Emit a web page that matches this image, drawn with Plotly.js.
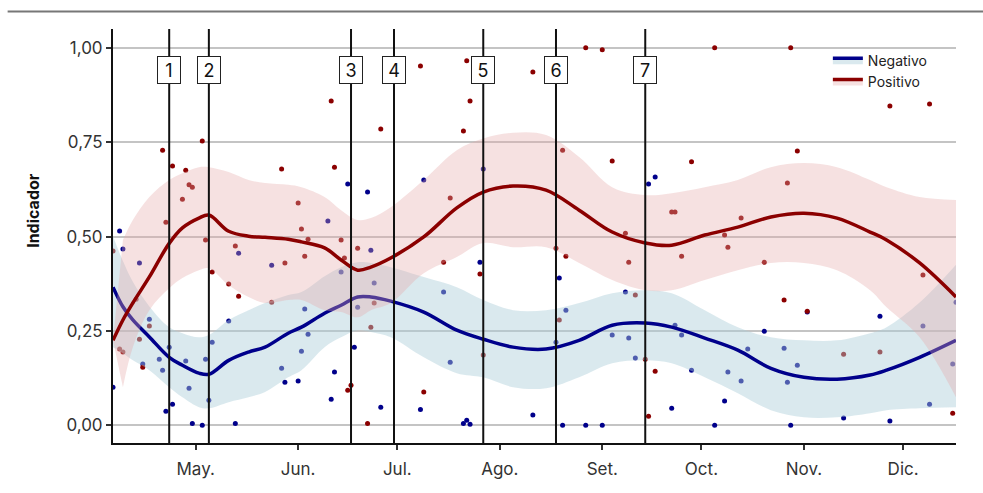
<!DOCTYPE html>
<html>
<head>
<meta charset="utf-8">
<script src="https://cdn.plot.ly/plotly-3.0.1.min.js"></script>
<style>
html,body{margin:0;padding:0;background:#fff;}
#chart{width:983px;height:493px;}
</style>
</head>
<body>
<div id="chart"></div>
<script>
// ---------- data ----------
const seriesNames = ['Negativo', 'Positivo'];

const negDates = ['2021-04-06','2021-04-08','2021-04-09','2021-04-14','2021-04-15','2021-04-17','2021-04-20','2021-04-21','2021-04-22','2021-04-23',
'2021-04-24','2021-04-28','2021-04-29','2021-04-30','2021-05-03','2021-05-04','2021-05-05','2021-05-06','2021-05-11','2021-05-13',
'2021-05-14','2021-05-24','2021-05-27','2021-05-28','2021-06-01','2021-06-02','2021-06-03','2021-06-04','2021-06-10','2021-06-11',
'2021-06-12','2021-06-14','2021-06-16','2021-06-18','2021-06-19','2021-06-22','2021-06-23','2021-06-24','2021-06-26','2021-07-08',
'2021-07-09','2021-07-15','2021-07-17','2021-07-21','2021-07-22','2021-07-23','2021-07-26','2021-07-27','2021-08-11','2021-08-18',
'2021-08-19','2021-08-20','2021-08-21','2021-08-27','2021-09-01','2021-09-04','2021-09-08','2021-09-09','2021-09-11','2021-09-15',
'2021-09-17','2021-09-22','2021-09-23','2021-09-25','2021-09-28','2021-10-05','2021-10-08','2021-10-09','2021-10-13','2021-10-15',
'2021-10-20','2021-10-26','2021-10-27','2021-10-28','2021-10-30','2021-11-02','2021-11-13','2021-11-24','2021-11-27','2021-12-07',
'2021-12-09','2021-12-16','2021-12-17'];
const negValues = [0.101,0.515,0.467,0.430,0.162,0.281,0.175,0.146,0.037,0.207,
0.056,0.170,0.098,0.005,0.000,0.175,0.066,0.220,0.276,0.005,
0.456,0.424,0.151,0.114,0.117,0.196,0.308,0.241,0.541,0.069,
0.141,0.406,0.639,0.207,0.313,0.618,0.464,0.377,0.048,0.042,
0.650,0.353,0.167,0.005,0.013,0.003,0.432,0.679,0.027,0.220,
0.390,0.000,0.305,0.000,0.000,0.239,0.353,0.231,0.178,0.639,
0.658,0.045,0.265,0.239,0.146,0.000,0.064,0.141,0.117,0.202,
0.249,0.204,0.114,0.000,0.159,0.300,0.019,0.289,0.011,0.263,
0.056,0.162,0.326];

const posDates = ['2021-04-06','2021-04-08','2021-04-09','2021-04-13','2021-04-14','2021-04-15','2021-04-17','2021-04-21','2021-04-22','2021-04-24',
'2021-04-27','2021-04-28','2021-04-29','2021-04-30','2021-05-03','2021-05-04','2021-05-06','2021-05-11','2021-05-13','2021-05-14',
'2021-05-24','2021-05-27','2021-05-28','2021-06-01','2021-06-02','2021-06-03','2021-06-04','2021-06-11','2021-06-12','2021-06-14',
'2021-06-15','2021-06-16','2021-06-17','2021-06-19','2021-06-22','2021-06-23','2021-06-24','2021-06-26','2021-07-08','2021-07-09',
'2021-07-15','2021-07-17','2021-07-21','2021-07-22','2021-07-23','2021-07-26','2021-07-27','2021-08-11','2021-08-18','2021-08-19',
'2021-08-20','2021-08-21','2021-08-27','2021-09-01','2021-09-04','2021-09-08','2021-09-09','2021-09-11','2021-09-14','2021-09-15',
'2021-09-17','2021-09-22','2021-09-23','2021-09-25','2021-09-28','2021-10-05','2021-10-08','2021-10-09','2021-10-13','2021-10-20',
'2021-10-26','2021-10-27','2021-10-28','2021-10-30','2021-11-02','2021-11-13','2021-11-24','2021-11-27','2021-12-07','2021-12-09',
'2021-12-16'];
const posValues = [0.462,0.202,0.194,0.334,0.228,0.154,0.263,0.729,0.538,0.687,
0.599,0.676,0.637,0.631,0.753,0.491,0.406,0.374,0.475,0.342,
0.326,0.679,0.430,0.589,0.520,0.448,0.493,0.859,0.684,0.491,
0.443,0.093,0.106,0.469,0.005,0.260,0.324,0.785,0.952,0.088,
0.432,0.602,0.780,0.966,0.859,0.401,0.186,0.936,0.469,0.279,
0.729,0.448,1.000,0.995,0.700,0.509,0.432,0.345,0.175,0.024,
0.143,0.565,0.565,0.448,0.698,1.000,0.504,0.472,0.549,0.432,
0.332,0.642,1.000,0.727,0.302,0.188,0.194,0.846,0.398,0.851,
0.032];

// smoothed trend and confidence band
const curveDates = ['2021-04-06','2021-04-09','2021-04-12','2021-04-17','2021-04-23','2021-04-27','2021-05-02','2021-05-05','2021-05-11','2021-05-17',
'2021-05-22','2021-05-29','2021-06-02','2021-06-09','2021-06-14','2021-06-19','2021-06-23','2021-06-29','2021-07-09','2021-07-19',
'2021-07-27','2021-08-05','2021-08-15','2021-08-25','2021-09-04','2021-09-14','2021-09-22','2021-10-02','2021-10-12','2021-10-22',
'2021-11-01','2021-11-11','2021-11-21','2021-11-26','2021-12-06','2021-12-17'];
const negFit  = [0.366,0.314,0.279,0.234,0.180,0.159,0.138,0.135,0.172,0.194,0.207,0.244,0.260,0.297,0.318,0.340,0.340,0.329,0.300,0.252,
0.228,0.207,0.202,0.225,0.265,0.271,0.260,0.231,0.199,0.151,0.127,0.122,0.133,0.146,0.180,0.225];
const negLow  = [0.207,0.191,0.172,0.146,0.101,0.074,0.048,0.045,0.061,0.074,0.088,0.127,0.146,0.207,0.233,0.252,0.247,0.233,0.180,0.138,
0.127,0.101,0.098,0.127,0.164,0.172,0.164,0.127,0.085,0.040,0.021,0.021,0.032,0.040,0.045,0.048];
const negHigh = [0.501,0.435,0.380,0.315,0.260,0.244,0.233,0.239,0.279,0.305,0.324,0.345,0.353,0.395,0.419,0.432,0.430,0.419,0.393,0.366,
0.332,0.305,0.305,0.324,0.350,0.358,0.350,0.305,0.260,0.233,0.225,0.225,0.244,0.260,0.325,0.425];

const posFit  = [0.225,0.279,0.324,0.393,0.482,0.523,0.549,0.557,0.514,0.501,0.498,0.493,0.486,0.470,0.438,0.411,0.419,0.443,0.499,0.576,
0.618,0.634,0.623,0.570,0.512,0.483,0.477,0.504,0.525,0.552,0.562,0.549,0.512,0.491,0.430,0.340];
const posBandDates = ['2021-04-09','2021-04-12','2021-04-17','2021-04-23','2021-04-27','2021-05-02','2021-05-05','2021-05-11','2021-05-17',
'2021-05-22','2021-05-29','2021-06-02','2021-06-09','2021-06-14','2021-06-19','2021-06-23','2021-06-29','2021-07-09','2021-07-19',
'2021-07-27','2021-08-05','2021-08-15','2021-08-25','2021-09-04','2021-09-14','2021-09-22','2021-10-02','2021-10-12','2021-10-22',
'2021-11-01','2021-11-11','2021-11-21','2021-11-26','2021-12-06','2021-12-17'];
const posLow  = [0.101,0.207,0.305,0.363,0.390,0.411,0.416,0.371,0.340,0.324,0.332,0.332,0.305,0.300,0.286,0.305,0.324,0.403,0.446,
0.483,0.472,0.472,0.430,0.385,0.358,0.358,0.385,0.411,0.430,0.430,0.411,0.358,0.313,0.233,0.074];
const posHigh = [0.491,0.544,0.605,0.650,0.668,0.684,0.684,0.671,0.650,0.642,0.637,0.631,0.605,0.570,0.544,0.549,0.578,0.650,0.729,
0.760,0.775,0.769,0.711,0.631,0.610,0.615,0.631,0.650,0.684,0.695,0.684,0.650,0.631,0.605,0.597];

// event markers
const eventDates  = ['2021-04-23','2021-05-05','2021-06-17','2021-06-30','2021-07-27','2021-08-18','2021-09-14'];
const eventLabels = ['1','2','3','4','5','6','7'];

// axis ticks
const monthTickDates = ['2021-05-01','2021-06-01','2021-07-01','2021-08-01','2021-09-01','2021-10-01','2021-11-01','2021-12-01'];
const monthTickText  = ['May.','Jun.','Jul.','Ago.','Set.','Oct.','Nov.','Dic.'];
const yTickValues = [0, 0.25, 0.5, 0.75, 1];
const yTitle = 'Indicador';

// ---------- styles ----------
const negColor = '#00008B';
const posColor = '#8B0000';
const negFill = 'rgba(173,207,217,0.45)';
const posFill = 'rgba(230,170,170,0.35)';
const FONT = 'Inter, "DejaVu Sans", sans-serif';

const traces = [
  {x: negDates, y: negValues, type: 'scatter', mode: 'markers', marker: {color: negColor, size: 5}, showlegend: false, hoverinfo: 'x+y'},
  {x: posDates, y: posValues, type: 'scatter', mode: 'markers', marker: {color: posColor, size: 5}, showlegend: false, hoverinfo: 'x+y'},

  {x: curveDates, y: negLow, type: 'scatter', mode: 'lines', line: {width: 0, shape: 'spline'}, showlegend: false, hoverinfo: 'skip'},
  {x: curveDates, y: negFit, type: 'scatter', mode: 'lines', name: seriesNames[0], line: {color: negColor, width: 3.5, shape: 'spline'}, fill: 'tonexty', fillcolor: negFill},
  {x: curveDates, y: negHigh, type: 'scatter', mode: 'lines', line: {width: 0, shape: 'spline'}, fill: 'tonexty', fillcolor: negFill, showlegend: false, hoverinfo: 'skip'},

  {x: posBandDates, y: posLow, type: 'scatter', mode: 'lines', line: {width: 0, shape: 'spline'}, showlegend: false, hoverinfo: 'skip'},
  {x: curveDates, y: posFit, type: 'scatter', mode: 'lines', name: seriesNames[1], line: {color: posColor, width: 3.5, shape: 'spline'}, fill: 'tonexty', fillcolor: posFill},
  {x: posBandDates, y: posHigh, type: 'scatter', mode: 'lines', line: {width: 0, shape: 'spline'}, fill: 'tonexty', fillcolor: posFill, showlegend: false, hoverinfo: 'skip'}
];

const shapes = eventDates.map(d => ({
  type: 'line', xref: 'x', yref: 'paper', x0: d, x1: d, y0: 0, y1: 1,
  line: {color: '#111', width: 2}, layer: 'above'
}));
shapes.push({type: 'line', xref: 'paper', yref: 'paper', x0: -0.125, x1: 1.04, y0: 1.042, y1: 1.042,
  line: {color: '#777', width: 2}});

const annotations = eventDates.map((d, i) => ({
  x: d, xref: 'x', y: 0.9, yref: 'paper', text: eventLabels[i], showarrow: false,
  font: {family: FONT, size: 18, color: '#111'}, bgcolor: '#fff', bordercolor: '#222', borderwidth: 1,
  borderpad: 2, width: 18, height: 22, xanchor: 'center', yanchor: 'middle'
}));
annotations.push({
  text: '<b>' + yTitle + '</b>', xref: 'paper', yref: 'paper', x: -0.095, y: 0.563,
  textangle: -90, showarrow: false, font: {family: FONT, size: 16, color: '#111'},
  xanchor: 'center', yanchor: 'middle'
});

const layout = {
  width: 983, height: 493,
  margin: {l: 113, r: 27, t: 29, b: 50},
  paper_bgcolor: '#fff', plot_bgcolor: '#fff',
  font: {family: FONT, color: '#222'},
  separators: ',.',
  xaxis: {
    type: 'date', range: ['2021-04-06', '2021-12-17'],
    tickmode: 'array', tickvals: monthTickDates, ticktext: monthTickText,
    showgrid: false, zeroline: false, showline: true, linecolor: '#111', linewidth: 2,
    ticks: 'outside', ticklen: 5, tickwidth: 1.5, tickcolor: '#333',
    tickfont: {family: FONT, size: 17, color: '#333'}, ticklabelstandoff: 5
  },
  yaxis: {
    range: [-0.047, 1.05], tickmode: 'array', tickvals: yTickValues, tickformat: '.2f',
    showgrid: true, gridcolor: '#c4c4c4', gridwidth: 1.5, zeroline: false,
    showline: true, linecolor: '#111', linewidth: 2,
    ticks: 'outside', ticklen: 5, tickwidth: 1.5, tickcolor: '#333',
    tickfont: {family: FONT, size: 17, color: '#333'}
  },
  legend: {
    x: 0.848, y: 0.962, xanchor: 'left', yanchor: 'top', bgcolor: 'rgba(0,0,0,0)',
    traceorder: 'normal',
    font: {family: FONT, size: 14, color: '#222'}, tracegroupgap: 0, itemwidth: 30
  },
  shapes: shapes,
  annotations: annotations,
  hovermode: 'closest'
};

Plotly.newPlot('chart', traces, layout, {displayModeBar: false, responsive: false});
</script>
</body>
</html>
